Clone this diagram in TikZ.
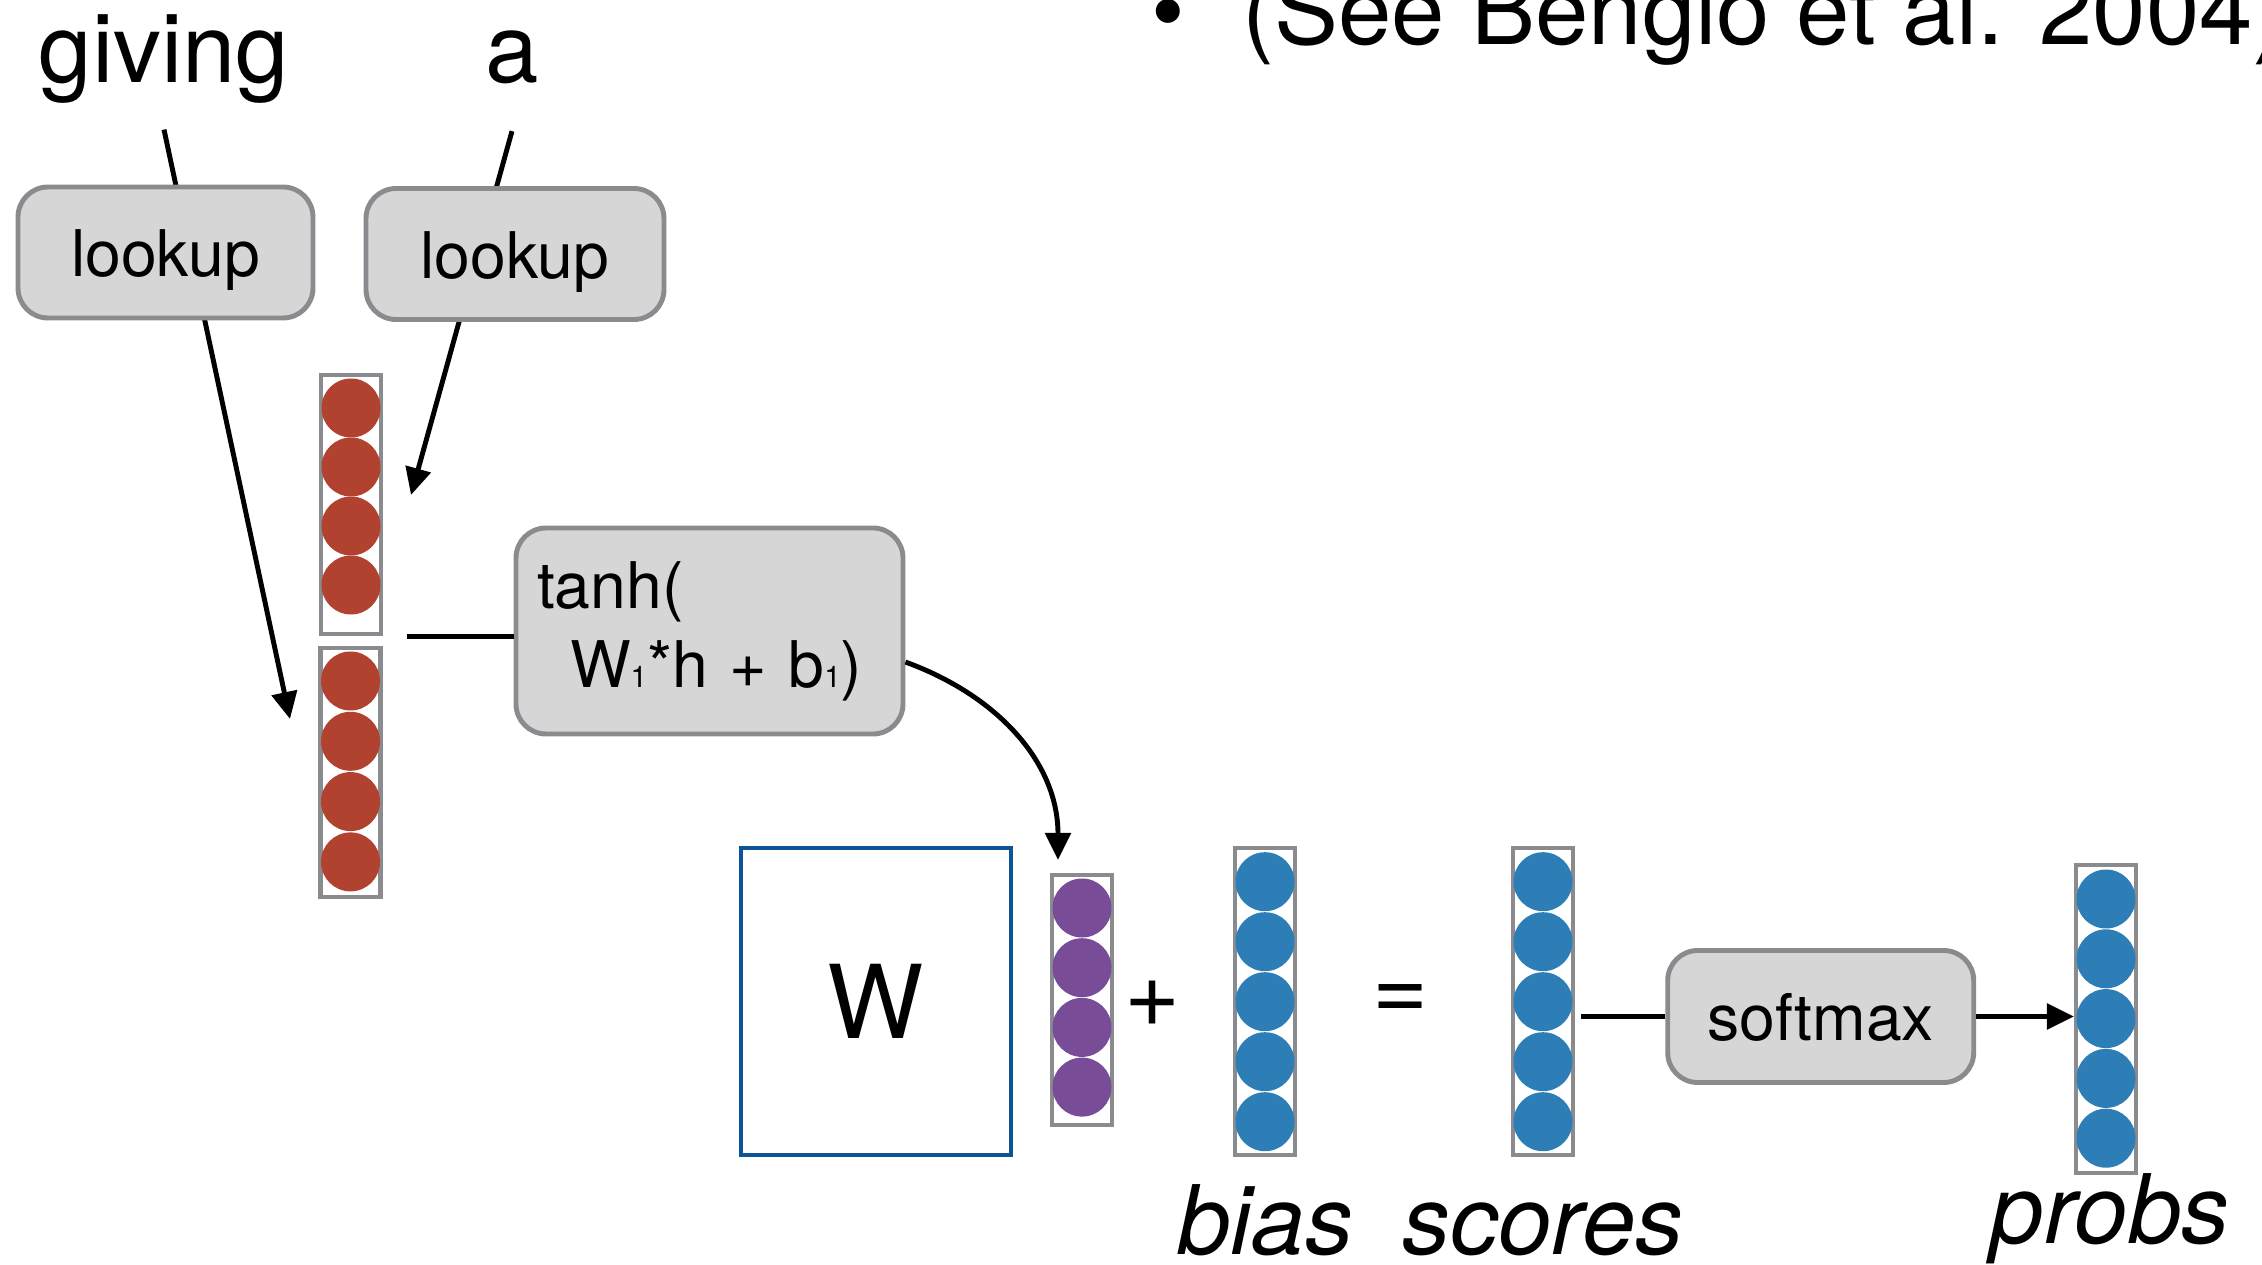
\documentclass[tikz,border=0pt]{standalone}
\usepackage{fontspec}
\setmainfont{TeX Gyre Heros}
\usepackage{tikz}
\usetikzlibrary{positioning}
\usetikzlibrary{arrows.meta}
\usetikzlibrary{calc}

\definecolor{boxgray}{RGB}{214,214,214}
\definecolor{edgegray}{RGB}{137,139,142}
\definecolor{wordred}{RGB}{178,66,48}
\definecolor{hidpurple}{RGB}{121,76,152}
\definecolor{outblue}{RGB}{45,126,183}
\definecolor{matblue}{RGB}{12,84,150}

\newcommand{\subidx}[1]{{\fontsize{8.5}{9}\selectfont #1}}

\tikzset{
  opbox/.style={draw=edgegray, fill=boxgray, line width=1.4pt, rounded corners=0.3cm, inner sep=0pt, font=\fontsize{18.3}{22.5}\selectfont},
  optext/.style={text height=0.63cm, text depth=0.14cm},
  colbox/.style={draw=edgegray, fill=white, line width=1.2pt, minimum width=0.6cm, inner sep=0pt},
  link/.style={line width=1.4pt},
  arr/.style={link, -{Triangle[length=7.7pt,width=7.2pt]}},
  big/.style={font=\fontsize{27.3}{32}\selectfont, inner sep=0pt},
  lbl/.style={font=\fontsize{27.3}{32}\selectfont\itshape, anchor=base, inner sep=0pt},
}

\begin{document}
\begin{tikzpicture}[x=1cm,y=1cm]
  \useasboundingbox (0,0) rectangle (22.62,-12.65);
  \clip (0,0) rectangle (22.62,-12.65);

  \def\r{0.295};

  %words
  \node[big, anchor=base] (wgiving) at (1.64,-0.83) {giving};
  \node[big, anchor=base] (wa) at (5.12,-0.83) {a};
  \node[big, anchor=base west] (cite) at (11.51,-0.45) {\textbullet\hspace{0.57cm}(See Bengio et al. 2004)};

  %embeddings
  \def\cx{3.51};
  \def\cy{-4.08};
  \node[colbox, minimum height=2.59cm] (embA) at (\cx,-5.045) {};
  \foreach \i in {0,...,3}{
      \fill[wordred] (\cx, \cy - \i*0.59) circle (\r);
  }

  \def\cx{3.505};
  \def\cy{-6.81};
  \node[colbox, minimum height=2.49cm] (embB) at (\cx,-7.725) {};
  \foreach \i in {0,...,3}{
      \fill[wordred] (\cx, \cy - \i*0.603) circle (\r);
  }

  %lines from the words
  \coordinate (gtip) at (2.90,-7.19);
  \coordinate (atip) at (4.11,-4.95);
  \draw[arr] ([yshift=-0.25cm]wgiving.south) -- (gtip);
  \draw[arr] ([yshift=-0.46cm]wa.south) -- (atip);

  %lookups
  \node[opbox, optext, minimum width=2.95cm, minimum height=1.31cm] (lookup1) at (1.655,-2.525) {lookup};
  \node[opbox, optext, minimum width=2.98cm, minimum height=1.31cm] (lookup2) at (5.15,-2.54) {lookup};

  %hidden layer
  \node[opbox, minimum height=2.06cm, text width=3.45cm, inner xsep=0.21cm, align=left] (tanh) at (7.095,-6.31) {tanh(\\\mbox{\hspace*{0.33cm}W\subidx{1}*h + b\subidx{1})}};
  \draw[link] ($(embA.south east)+(0.24,0)$) -- (tanh.west |- embA.south);

  \def\cx{10.82};
  \def\cy{-9.08};
  \node[colbox, minimum height=2.5cm] (hid) at (\cx,-10.0) {};
  \foreach \i in {0,...,3}{
      \fill[hidpurple] (\cx, \cy - \i*0.597) circle (\r);
  }
  \draw[arr] (tanh.-9.4) to[out=-20,in=90] ([xshift=-0.24cm,yshift=0.13cm]hid.north);

  %output
  \node[draw=matblue, line width=1.4pt, minimum width=2.70cm, minimum height=3.07cm, inner sep=0pt, font=\fontsize{29}{34}\selectfont] (W) at (8.76,-10.015) {W};
  \node[big] (plus) at (11.53,-10.04) {+};
  \node[big] (eq) at (14.01,-10.03) {=};

  \foreach \cx/\name in {12.65/bias, 15.43/scores}{
      \node[colbox, minimum height=3.07cm] (\name) at (\cx,-10.015) {};
      \foreach \i in {0,...,4}{
          \fill[outblue] (\cx, -8.817 - \i*0.6) circle (\r);
      }
  }

  \def\cx{21.06};
  \def\cy{-8.99};
  \node[colbox, minimum height=3.08cm] (probs) at (\cx,-10.19) {};
  \foreach \i in {0,...,4}{
      \fill[outblue] (\cx, \cy - \i*0.598) circle (\r);
  }

  \node[opbox, optext, minimum width=3.06cm, minimum height=1.32cm] (softmax) at (18.207,-10.165) {softmax};
  \draw[link, shorten >=0.06cm] (softmax.west) -- (softmax.west -| scores.east);
  \draw[arr] (softmax.east) -- (softmax.east -| probs.west);

  %labels
  \node[lbl] (lbias) at ([yshift=-0.97cm]bias.south) {bias};
  \node[lbl] (lscores) at ([yshift=-0.97cm]scores.south) {scores};
  \node[lbl] (lprobs) at ([xshift=0.04cm,yshift=-0.68cm]probs.south) {probs};

\end{tikzpicture}
\end{document}
